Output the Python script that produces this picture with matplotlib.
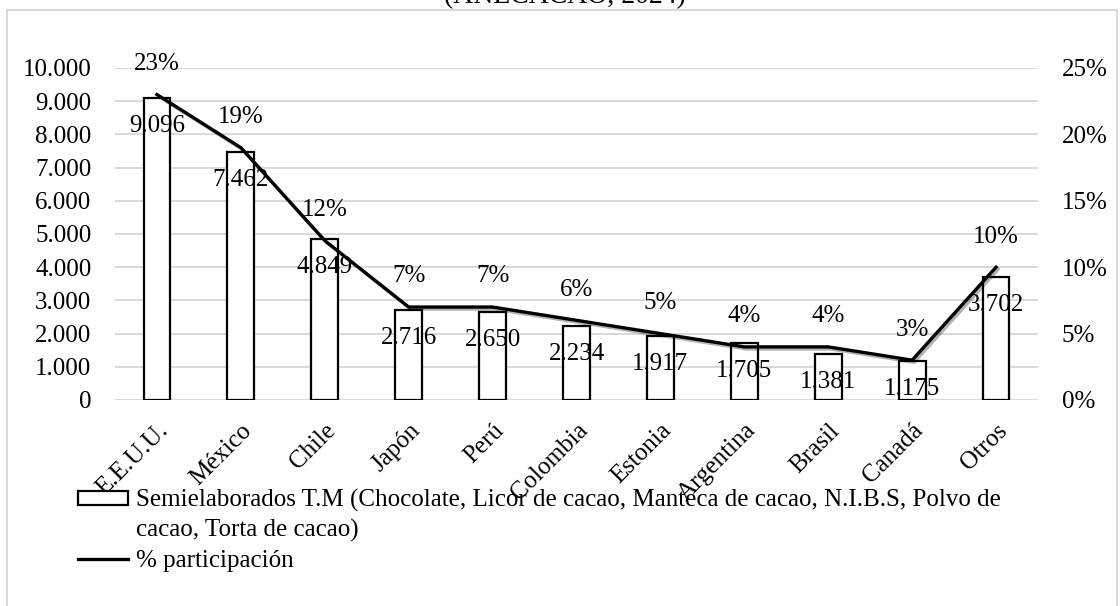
import matplotlib
matplotlib.use("Agg")
import matplotlib.pyplot as plt
import matplotlib.patheffects as pe
from matplotlib.patches import Rectangle
from matplotlib.lines import Line2D
from matplotlib.legend_handler import HandlerPatch
from matplotlib.ticker import FuncFormatter, MultipleLocator

plt.rcParams['font.family'] = ['Liberation Serif', 'DejaVu Serif']

countries = ["E.E.U.U.", "México", "Chile", "Japón", "Perú", "Colombia",
             "Estonia", "Argentina", "Brasil", "Canadá", "Otros"]
tonnes = [9096, 7462, 4849, 2716, 2650, 2234, 1917, 1705, 1381, 1175, 3702]
share = [0.23, 0.19, 0.12, 0.07, 0.07, 0.06, 0.05, 0.04, 0.04, 0.03, 0.10]

bar_label = ("Semielaborados T.M (Chocolate, Licor de cacao, Manteca de cacao, "
             "N.I.B.S, Polvo de\ncacao, Torta de cacao)")
line_label = "% participación"
title = "(ANECACAO, 2024)"

W, H = 1120, 606
fig = plt.figure(figsize=(W / 100, H / 100), dpi=100)
fig.patch.set_facecolor("white")

# outer frame
fig.patches.append(Rectangle((7 / W, -0.02), (1117 - 7) / W, (H - 10) / H + 0.02,
                             transform=fig.transFigure, fill=False,
                             edgecolor="#d9d9d9", linewidth=1.5, zorder=0))
fig.text(565 / W, 1 - 3 / H, title, ha="center", va="baseline", fontsize=20)

ax = fig.add_axes([115 / W, 1 - 400 / H, (1038 - 115) / W, (400 - 68) / H])
ax2 = ax.twinx()

x = list(range(len(countries)))
ax.bar(x, tonnes, width=0.32, color="white", edgecolor="black", linewidth=1.6, zorder=3)
ax.set_xlim(-0.5, len(countries) - 0.5)
ax.set_ylim(0, 10000)
ax.yaxis.set_major_locator(MultipleLocator(1000))
ax.yaxis.set_major_formatter(FuncFormatter(lambda v, p: f"{int(v):,}".replace(",", ".")))
ax.grid(axis="y", color="#d9d9d9", linewidth=1.4, zorder=0)
ax.set_axisbelow(True)
for s in ax.spines.values():
    s.set_visible(False)
for s in ax2.spines.values():
    s.set_visible(False)
ax.tick_params(axis="y", length=0, labelsize=18, pad=17)
ax.tick_params(axis="x", length=0, labelsize=18, pad=14)
ax.set_xticks(x)
ax.set_xticklabels(countries, rotation=45, ha="right", rotation_mode="anchor")

for xi, v in zip(x, tonnes):
    ax.annotate(f"{v:,}".replace(",", "."), (xi, v), xytext=(0, -20),
                textcoords="offset points", ha="center", va="center",
                fontsize=18, zorder=5)

ax2.set_ylim(0, 0.25)
ax2.yaxis.set_major_locator(MultipleLocator(0.05))
ax2.yaxis.set_major_formatter(FuncFormatter(lambda v, p: f"{v * 100:.0f}%"))
ax2.tick_params(axis="y", length=0, labelsize=18, pad=17)
ax2.plot(x, share, color="black", linewidth=2.4, zorder=4,
         path_effects=[pe.SimpleLineShadow(offset=(1.5, -1.5), shadow_color="black",
                                           alpha=0.3), pe.Normal()])
for xi, v in zip(x, share):
    ax2.annotate(f"{v * 100:.0f}%", (xi, v), xytext=(0, 22),
                 textcoords="offset points", ha="center", va="center", fontsize=18)


def raised_rect(legend, orig_handle, xdescent, ydescent, width, height, fontsize):
    # align the box with the first line of the two-line label
    return Rectangle((-xdescent, -ydescent + 0.7 * fontsize), width, height)


handles = [Rectangle((0, 0), 1, 1, facecolor="white", edgecolor="black", linewidth=1.6),
           Line2D([0], [0], color="black", linewidth=2.4)]
leg = fig.legend(handles, [bar_label, line_label], loc="upper left",
                 bbox_to_anchor=(78 / W, 1 - 489 / H), frameon=False, fontsize=18,
                 handlelength=2.0, handleheight=0.5, handletextpad=0.3,
                 borderpad=0, borderaxespad=0, labelspacing=0.3,
                 handler_map={Rectangle: HandlerPatch(patch_func=raised_rect)})
leg.get_texts()[0].set_linespacing(1.4)

fig.savefig("out.png", dpi=100)
